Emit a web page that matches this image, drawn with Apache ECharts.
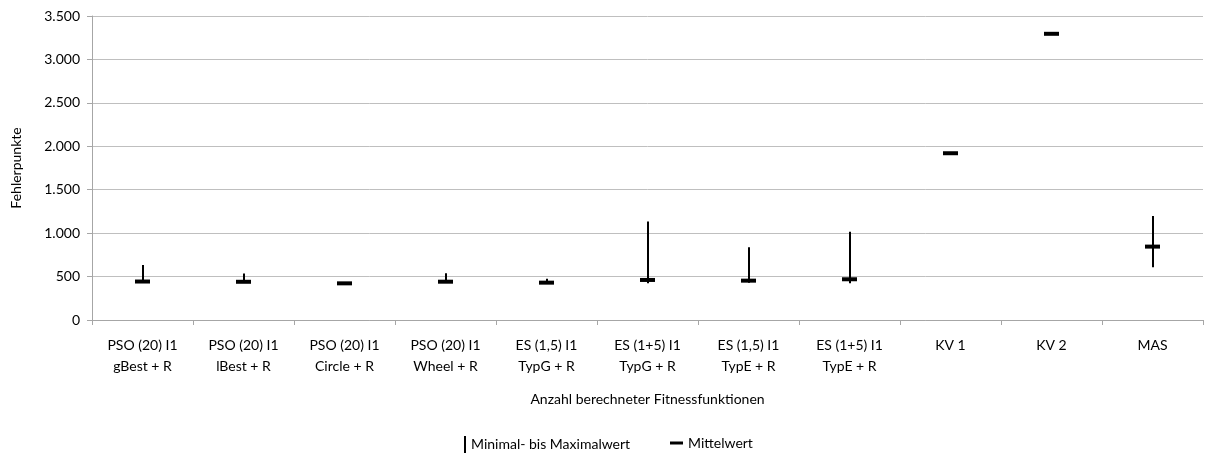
<!DOCTYPE html>
<html>
<head>
<meta charset="utf-8">
<script src="https://cdn.jsdelivr.net/npm/echarts@6/dist/echarts.min.js"></script>
<style>
  html, body { margin: 0; padding: 0; background: #fff; }
  #chart { width: 1206px; height: 455px; }
</style>
</head>
<body>
<div id="chart"></div>
<script>
// Verfahren (Kategorien der x-Achse)
const categories = [
  'PSO (20) I1\ngBest + R', 'PSO (20) I1\nlBest + R', 'PSO (20) I1\nCircle + R',
  'PSO (20) I1\nWheel + R', 'ES (1,5) I1\nTypG + R', 'ES (1+5) I1\nTypG + R',
  'ES (1,5) I1\nTypE + R', 'ES (1+5) I1\nTypE + R', 'KV 1', 'KV 2', 'MAS'
];
// Fehlerpunkte je Verfahren
const minValues  = [430, 425, 415, 432, 415, 423, 430, 423, 1920, 3295, 607];
const maxValues  = [632, 536, 428, 538, 476, 1133, 837, 1017, 1920, 3295, 1198];
const meanValues = [443, 440, 422, 441, 430, 461, 453, 469, 1920, 3295, 845];
const yTicks = [0, 500, 1000, 1500, 2000, 2500, 3000, 3500];

const FONT = 'Lato, "Open Sans", sans-serif';
const chart = echarts.init(document.getElementById('chart'), null, { renderer: 'canvas' });

const rangeData = categories.map((c, i) => [i, minValues[i], maxValues[i]]);
const meanData = categories.map((c, i) => [i, meanValues[i]]);
const legendText = { fontFamily: FONT, fontSize: 14, color: '#000' };

chart.setOption({
  animation: false,
  textStyle: { fontFamily: FONT, color: '#000' },
  grid: { left: 92, right: 3, top: 16, bottom: 135, containLabel: false },
  legend: [
    {
      data: ['Minimal- bis Maximalwert'],
      icon: 'rect',
      itemWidth: 2,
      itemHeight: 17,
      itemGap: 0,
      left: 459,
      top: 431,
      textStyle: legendText
    },
    {
      data: ['Mittelwert'],
      icon: 'rect',
      itemWidth: 13,
      itemHeight: 3,
      left: 665,
      top: 431,
      textStyle: legendText
    }
  ],
  xAxis: {
    type: 'category',
    data: categories,
    boundaryGap: true,
    name: 'Anzahl berechneter Fitnessfunktionen',
    nameLocation: 'middle',
    nameGap: 72,
    nameTextStyle: { fontFamily: FONT, fontSize: 14, color: '#000' },
    axisLine: { lineStyle: { color: '#a6a6a6', width: 1 } },
    axisTick: { show: true, alignWithLabel: false, length: 5, lineStyle: { color: '#a6a6a6' } },
    axisLabel: { fontFamily: FONT, fontSize: 14, color: '#000', margin: 15, lineHeight: 21, interval: 0 }
  },
  yAxis: {
    type: 'value',
    min: yTicks[0],
    max: yTicks[yTicks.length - 1],
    interval: 500,
    name: 'Fehlerpunkte',
    nameLocation: 'middle',
    nameGap: 69,
    nameRotate: 90,
    nameTextStyle: { fontFamily: FONT, fontSize: 14, color: '#000' },
    axisLine: { show: true, lineStyle: { color: '#a6a6a6', width: 1 } },
    axisTick: { show: true, length: 5, lineStyle: { color: '#a6a6a6' } },
    splitLine: { lineStyle: { color: '#bfbfbf', width: 1 } },
    axisLabel: {
      fontFamily: FONT, fontSize: 14, color: '#000', margin: 12,
      formatter: v => v.toString().replace(/\B(?=(\d{3})+(?!\d))/g, '.')
    }
  },
  series: [
    {
      name: 'Minimal- bis Maximalwert',
      type: 'custom',
      itemStyle: { color: '#000' },
      data: rangeData,
      encode: { x: 0, y: [1, 2] },
      renderItem: function (params, api) {
        const lo = api.coord([api.value(0), api.value(1)]);
        const hi = api.coord([api.value(0), api.value(2)]);
        const x = Math.round(lo[0]);
        return {
          type: 'line',
          shape: { x1: x, y1: lo[1], x2: x, y2: hi[1] },
          style: { stroke: '#000', lineWidth: 2 }
        };
      },
      z: 3
    },
    {
      name: 'Mittelwert',
      type: 'scatter',
      symbol: 'rect',
      symbolSize: [15, 4],
      itemStyle: { color: '#000', opacity: 1 },
      data: meanData,
      z: 4
    }
  ]
});
</script>
</body>
</html>
